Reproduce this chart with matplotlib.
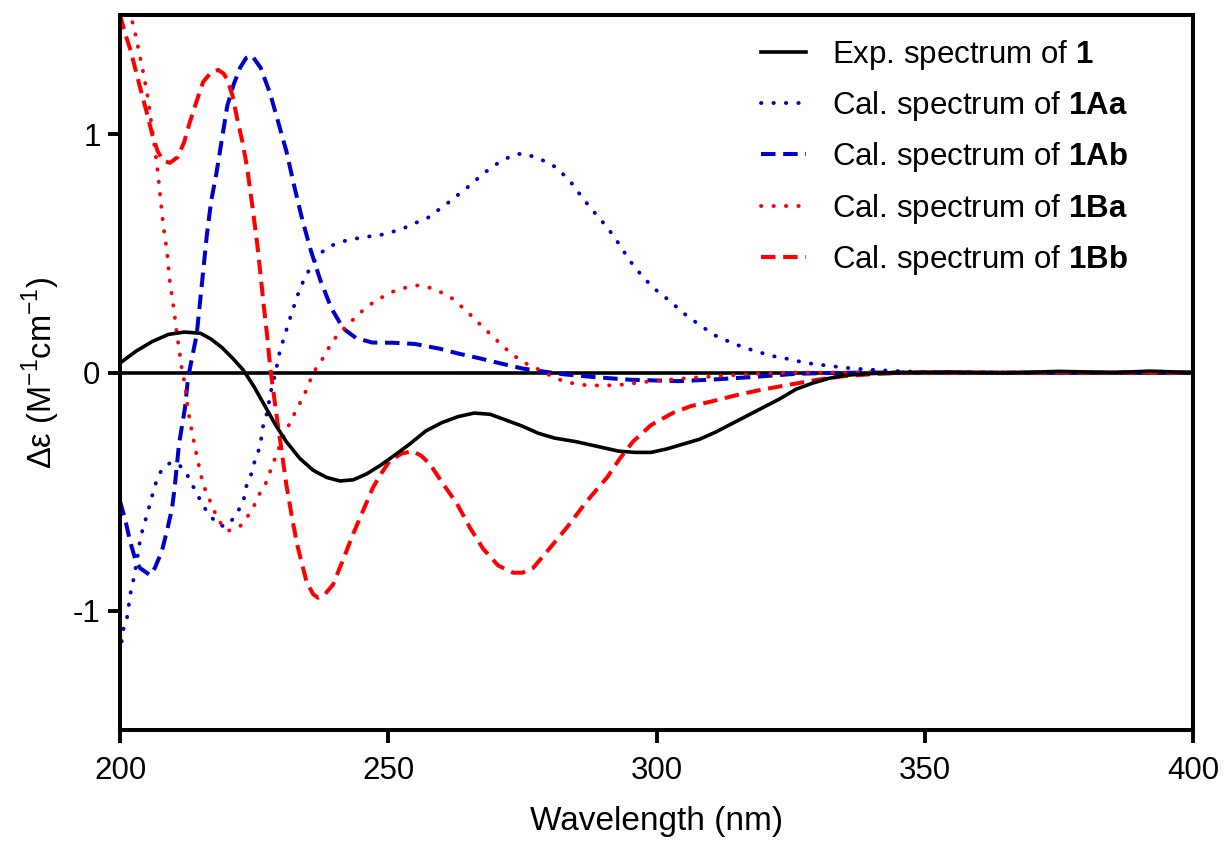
import numpy as np
import matplotlib.pyplot as plt

plt.rcParams["font.family"] = ["Liberation Sans", "DejaVu Sans"]
plt.rcParams["mathtext.fontset"] = "custom"
plt.rcParams["mathtext.rm"] = "Liberation Sans"
plt.rcParams["mathtext.bf"] = "Liberation Sans:bold"
plt.rcParams["axes.unicode_minus"] = False

# experimental spectrum of 1
exp_wl = [200, 203, 206, 209, 212, 215, 217, 219, 221, 223, 225, 227, 229, 231,
          233.5, 236, 238.5, 241, 243.5, 246, 248.5, 251, 254, 257, 260, 263, 266,
          269, 272, 275, 278, 281, 285, 289, 293, 296, 299, 302, 305, 308, 311, 314,
          317, 320, 323, 326, 329, 332, 335, 339, 345, 355, 365, 375, 385, 392, 400]
exp_de = [0.04, 0.09, 0.13, 0.16, 0.17, 0.165, 0.14, 0.105, 0.06, 0.01, -0.06, -0.14,
          -0.22, -0.29, -0.36, -0.41, -0.44, -0.455, -0.45, -0.425, -0.39, -0.35, -0.30,
          -0.245, -0.21, -0.185, -0.17, -0.175, -0.20, -0.225, -0.255, -0.275, -0.29,
          -0.31, -0.33, -0.335, -0.335, -0.32, -0.30, -0.28, -0.25, -0.215, -0.18,
          -0.145, -0.11, -0.07, -0.045, -0.025, -0.012, -0.005, 0.0, 0.002, -0.002,
          0.005, 0.0, 0.006, 0.0]

# calculated 1Aa
aa_wl = [200, 200.6, 201.3, 202, 202.5, 203, 203.7, 204.3, 205, 205.6, 206.2, 207, 208,
         209.3, 210.6, 212.1, 213.2, 214.4, 215.5, 216.8, 218.3, 219.6, 220.5, 221.8,
         223, 223.5, 224.4, 225, 226.1, 226.7, 227.4, 227.8, 228.3, 228.9, 229.8, 231.3,
         232, 233.5, 234.5, 236, 237.3, 239.1, 241.4, 243.4, 246, 248.5, 250.7, 252.8,
         255.3, 257.4, 261, 264.9, 268, 270.5, 273, 275, 278, 281.4, 284, 286.3, 288.5,
         290.8, 293, 295, 297.5, 299.7, 302.5, 305, 308, 311, 314.5, 318, 321.5, 325,
         327.3, 329.5, 332, 334.4, 336.7, 339, 341.5, 344, 346.5, 348.7, 352, 400]
aa_de = [-1.18, -1.08, -1.03, -0.92, -0.87, -0.81, -0.71, -0.65, -0.60, -0.55, -0.50,
         -0.44, -0.40, -0.38, -0.38, -0.41, -0.46, -0.51, -0.56, -0.60, -0.64, -0.645,
         -0.63, -0.59, -0.54, -0.48, -0.43, -0.38, -0.31, -0.22, -0.17, -0.12, -0.06,
         -0.01, 0.09, 0.20, 0.25, 0.35, 0.40, 0.46, 0.50, 0.53, 0.55, 0.56, 0.57, 0.577,
         0.59, 0.605, 0.63, 0.65, 0.71, 0.78, 0.84, 0.88, 0.91, 0.92, 0.90, 0.86, 0.80,
         0.73, 0.67, 0.61, 0.54, 0.47, 0.40, 0.35, 0.30, 0.25, 0.20, 0.155, 0.12, 0.093,
         0.07, 0.055, 0.043, 0.035, 0.029, 0.022, 0.017, 0.013, 0.010, 0.007, 0.005,
         0.003, 0.0, 0.0]

# calculated 1Ab
ab_wl = [200, 201, 201.9, 202.8, 203.7, 205.6, 206.5, 207.8, 208.8, 209.7, 210.2, 211,
         212.1, 212.7, 214.3, 215.3, 216.2, 217, 218, 219, 220, 221.2, 222.4, 223.5,
         224.6, 226.2, 228, 229.5, 231, 232.5, 234, 235.6, 237.3, 239.4, 241.6, 244, 247,
         251, 255, 259.6, 263, 267, 271, 275, 279, 283, 289, 295, 304, 310, 317, 322,
         326, 332, 340, 400]
ab_de = [-0.54, -0.62, -0.71, -0.78, -0.82, -0.85, -0.82, -0.75, -0.66, -0.57, -0.48,
         -0.30, -0.15, -0.02, 0.16, 0.38, 0.58, 0.72, 0.84, 0.98, 1.12, 1.21, 1.28, 1.32,
         1.33, 1.28, 1.17, 1.05, 0.93, 0.78, 0.64, 0.51, 0.39, 0.27, 0.185, 0.145, 0.126,
         0.125, 0.12, 0.10, 0.08, 0.06, 0.038, 0.017, 0.004, -0.008, -0.02, -0.03, -0.036,
         -0.03, -0.02, -0.012, -0.005, -0.002, 0.0, 0.0]

# calculated 1Ba
ba_wl = [200, 201, 202.5, 203.5, 204.5, 205.3, 206, 206.5, 207, 207.5, 208, 208.8, 209.3,
         209.9, 210.5, 211.5, 212.1, 212.7, 213.5, 214.5, 215.5, 216.8, 218.3, 220.1,
         222.4, 223.9, 225.2, 226.1, 227.4, 228.2, 228.9, 230.4, 231.7, 233, 234, 235,
         236, 237.3, 239.7, 242, 244.7, 247.5, 250.9, 253, 255.3, 258, 260, 262, 264.5,
         267, 270, 272.7, 275, 277.7, 280, 283, 286.5, 290, 294, 297.5, 302, 308, 317,
         325, 400]
ba_de = [1.62, 1.54, 1.46, 1.35, 1.24, 1.14, 1.02, 0.94, 0.85, 0.74, 0.63, 0.50, 0.38,
         0.29, 0.18, 0.02, -0.05, -0.16, -0.26, -0.37, -0.47, -0.54, -0.62, -0.665,
         -0.645, -0.60, -0.55, -0.505, -0.455, -0.40, -0.36, -0.27, -0.21, -0.15, -0.11,
         -0.06, 0.0, 0.04, 0.135, 0.19, 0.25, 0.30, 0.34, 0.355, 0.366, 0.355, 0.335,
         0.31, 0.26, 0.205, 0.14, 0.084, 0.045, 0.017, -0.01, -0.04, -0.052, -0.055,
         -0.05, -0.04, -0.03, -0.02, -0.007, 0.0, 0.0]

# calculated 1Bb
bb_wl = [200, 201, 202, 203.7, 205, 206, 207, 208, 209.3, 210.8, 212, 213, 214.3, 215.5,
         217, 218.3, 219.3, 220, 221, 221.8, 222.8, 223.7, 224.6, 225.5, 226.1, 226.7,
         227.4, 228, 229.3, 230.2, 231, 232, 233, 234, 234.8, 236, 236.9, 238.2, 239.7,
         241.5, 243.4, 245.3, 247.2, 248.8, 250.3, 252.5, 254.6, 256.2, 257.8, 260.3,
         262.8, 265.2, 267.7, 270.5, 273.3, 275, 277, 280, 283.3, 287, 290.8, 293.2,
         295.6, 299, 303, 306.5, 310.5, 314.5, 318.7, 322.5, 326, 330, 335, 340, 345,
         350, 400]
bb_de = [1.50, 1.42, 1.35, 1.20, 1.09, 1.0, 0.93, 0.89, 0.88, 0.905, 0.97, 1.05, 1.14,
         1.22, 1.26, 1.27, 1.255, 1.23, 1.16, 1.07, 0.97, 0.86, 0.71, 0.555, 0.43, 0.30,
         0.16, 0.02, -0.20, -0.34, -0.47, -0.60, -0.72, -0.81, -0.88, -0.93, -0.945,
         -0.93, -0.89, -0.79, -0.68, -0.58, -0.48, -0.42, -0.37, -0.34, -0.33, -0.35,
         -0.385, -0.47, -0.55, -0.65, -0.74, -0.81, -0.84, -0.84, -0.82, -0.74, -0.65,
         -0.54, -0.44, -0.36, -0.29, -0.22, -0.17, -0.14, -0.12, -0.097, -0.076, -0.06,
         -0.046, -0.03, -0.015, -0.007, -0.002, 0.0, 0.0]

blue = "#0000CC"
red = "#FF0000"
dots = (0, (0.1, 3.1))
dashes = (0, (3.6, 1.9))

fig = plt.figure(figsize=(12.27, 8.41), dpi=100)
ax = fig.add_axes([0.0978, 0.132, 0.8745, 0.850])

ax.axhline(0, color="black", lw=2.6, zorder=1)
ax.plot(exp_wl, exp_de, color="black", lw=2.6, label=r"Exp. spectrum of $\mathbf{1}$", zorder=5)
ax.plot(aa_wl, aa_de, color=blue, lw=2.8, ls=dots, dash_capstyle="round",
        label=r"Cal. spectrum of $\mathbf{1Aa}$")
ax.plot(ab_wl, ab_de, color=blue, lw=2.9, ls=dashes, label=r"Cal. spectrum of $\mathbf{1Ab}$")
ax.plot(ba_wl, ba_de, color=red, lw=2.8, ls=dots, dash_capstyle="round",
        label=r"Cal. spectrum of $\mathbf{1Ba}$")
ax.plot(bb_wl, bb_de, color=red, lw=2.9, ls=dashes, label=r"Cal. spectrum of $\mathbf{1Bb}$")

ax.set_xlim(200, 400)
ax.set_ylim(-1.5, 1.5)
ax.set_xticks([200, 250, 300, 350, 400])
ax.set_yticks([-1, 0, 1])
ax.tick_params(direction="out", length=9, width=2.8, labelsize=22.5)
ax.tick_params(axis="x", pad=10)
ax.tick_params(axis="y", pad=5)
for s in ax.spines.values():
    s.set_linewidth(2.9)

ax.set_xlabel("Wavelength (nm)", fontsize=24, labelpad=14)
ax.set_ylabel(r"Δε (M$^{-1}$cm$^{-1}$)", fontsize=23.5, labelpad=8)

ax.legend(loc="upper left", bbox_to_anchor=(0.597, 0.968), frameon=False, fontsize=22.5,
          handlelength=1.45, handletextpad=0.85, labelspacing=0.55, borderpad=0,
          borderaxespad=0)

fig.savefig("out.png", dpi=100)
